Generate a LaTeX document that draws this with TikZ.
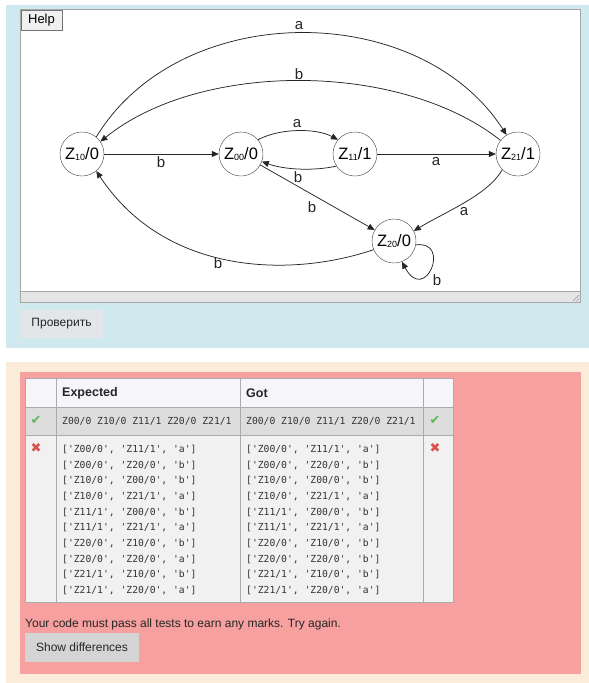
\documentclass[tikz,border=0pt]{standalone}
\usepackage{fontspec}
\setmainfont{Liberation Sans}
\setmonofont{DejaVu Sans Mono}
\newfontfamily\symfont{DejaVu Sans}
\usetikzlibrary{arrows.meta}

\definecolor{panelblue}{RGB}{208,233,239}
\definecolor{panelbeige}{RGB}{250,236,216}
\definecolor{failpink}{RGB}{246,160,160}
\definecolor{headgray}{RGB}{245,245,250}
\definecolor{rowgray}{RGB}{221,221,221}
\definecolor{cellgray}{RGB}{240,241,240}
\definecolor{linegray}{RGB}{170,170,175}
\definecolor{btngray}{RGB}{226,230,232}
\definecolor{okgreen}{RGB}{92,184,92}
\definecolor{badred}{RGB}{217,83,79}

\newcommand{\zlab}[2]{Z\raisebox{-1.5pt}{\fontsize{9}{10}\selectfont #1}/#2}

\tikzset{
  state/.style={draw=black!75, circle, fill=white, minimum size=44pt, inner sep=0pt, font=\fontsize{16.5}{18}\selectfont},
  trans/.style={draw=black!85, line width=0.75pt, -{Triangle[length=7pt,width=6pt]}},
  lbl/.style={font=\fontsize{15}{17}\selectfont, text=black!85, inner sep=0pt},
  uitext/.style={font=\fontsize{12}{14}\selectfont, text=black!85, inner sep=0pt},
  codetext/.style={font=\ttfamily\fontsize{9.7}{11}\selectfont, text=black!80, anchor=west, inner sep=0pt},
  tickmark/.style={font=\symfont\fontsize{13}{14}\selectfont, inner sep=0pt},
}

\begin{document}
\begin{tikzpicture}[x=1pt, y=-1pt]
  \useasboundingbox (0,0) rectangle (589,683);
  \fill[white] (0,0) rectangle (589,683);

  % editor panel
  \fill[panelblue] (6,5) rectangle (589,348);
  \draw[fill=white, draw=black!35] (20.5,9.5) rectangle (580,302);
  \fill[black!10] (21,291) rectangle (579.5,301.5);
  \draw[black!35] (20.5,291) -- (580,291);
  \draw[black!40] (573,301) -- (579,295) (576.5,301) -- (579,298.5);
  \node[draw=black!55, fill=black!6, minimum width=41pt, minimum height=20pt, inner sep=0pt, font=\fontsize{13}{14}\selectfont] (help) at (41.5,20) {Help};

  % states
  \node[state] (z10) at (82,154) {\zlab{10}{0}};
  \node[state] (z00) at (241,154) {\zlab{00}{0}};
  \node[state] (z11) at (355,154) {\zlab{11}{1}};
  \node[state] (z21) at (518,154) {\zlab{21}{1}};
  \node[state] (z20) at (394,241) {\zlab{20}{0}};

  % transitions
  \draw[trans] (z10.50) .. controls (180,-1) and (419,-1) .. (z21.121) node[lbl] at (299,26) {a};
  \draw[trans] (z21.142) .. controls (400,61) and (200,61) .. (z10.34) node[lbl] at (299,74) {b};
  \draw[trans] (z10) -- (z00) node[lbl] at (161,162) {b};
  \draw[trans] (z00.40) .. controls (280,128) and (316,128) .. (z11.140) node[lbl] at (297,124) {a};
  \draw[trans] (z11.213) .. controls (315,171) and (285,170) .. (z00.-20) node[lbl] at (298,177) {b};
  \draw[trans] (z11) -- (z21) node[lbl] at (436,162) {a};
  \draw[trans] (z00) -- (z20) node[lbl] at (312,207) {b};
  \draw[trans] (z21.225) .. controls (488,195) and (445,212) .. (z20.27) node[lbl] at (464,212) {a};
  \draw[trans] (z20.203) .. controls (290,278) and (165,275) .. (z10.310) node[lbl] at (218,263) {b};
  \draw[trans] (z20.-10) .. controls (452,240) and (425,305) .. (z20.-69) node[lbl] at (437,280) {b};

  % check button
  \node[fill=btngray, minimum width=83pt, minimum height=28pt, inner sep=0pt, uitext] (check) at (61.5,324) {Проверить};

  % result panel
  \fill[panelbeige] (6,362) rectangle (589,683);
  \fill[failpink] (20,372) rectangle (581,674);
  \fill[headgray] (25.5,378) rectangle (453,407);
  \fill[rowgray] (25.5,407) rectangle (453,435);
  \fill[cellgray] (25.5,435) rectangle (453,602);
  \draw[linegray] (25.5,378) rectangle (453,602);
  \draw[linegray] (56,378) -- (56,602) (240,378) -- (240,602) (423,378) -- (423,602);
  \draw[linegray] (25.5,407) -- (453,407) (25.5,435) -- (453,435);

  \node[uitext, anchor=west, font=\bfseries\fontsize{12.5}{14}\selectfont] (hexp) at (62,393) {Expected};
  \node[uitext, anchor=west, font=\bfseries\fontsize{12.5}{14}\selectfont] (hgot) at (246,393) {Got};

  \node[tickmark, text=okgreen] (okl) at (36,420) {✔};
  \node[tickmark, text=okgreen] (okr) at (435,420) {✔};
  \node[tickmark, text=badred] (badl) at (36,448) {✖};
  \node[tickmark, text=badred] (badr) at (435,448) {✖};

  \node[codetext] (sexp) at (62,421) {Z00/0 Z10/0 Z11/1 Z20/0 Z21/1};
  \node[codetext] (sgot) at (246,421) {Z00/0 Z10/0 Z11/1 Z20/0 Z21/1};

  % expected and got edge lists
  \foreach \txt [count=\i] in {{['Z00/0', 'Z11/1', 'a']}, {['Z00/0', 'Z20/0', 'b']},
      {['Z10/0', 'Z00/0', 'b']}, {['Z10/0', 'Z21/1', 'a']}, {['Z11/1', 'Z00/0', 'b']},
      {['Z11/1', 'Z21/1', 'a']}, {['Z20/0', 'Z10/0', 'b']}, {['Z20/0', 'Z20/0', 'a']},
      {['Z21/1', 'Z10/0', 'b']}, {['Z21/1', 'Z20/0', 'a']}}
    \node[codetext] (exp\i) at (62,449.3+15.7*\i-15.7) {\txt};
  \foreach \txt [count=\i] in {{['Z00/0', 'Z11/1', 'a']}, {['Z00/0', 'Z20/0', 'b']},
      {['Z10/0', 'Z00/0', 'b']}, {['Z10/0', 'Z21/1', 'a']}, {['Z11/1', 'Z00/0', 'b']},
      {['Z11/1', 'Z21/1', 'a']}, {['Z20/0', 'Z10/0', 'b']}, {['Z20/0', 'Z20/0', 'b']},
      {['Z21/1', 'Z10/0', 'b']}, {['Z21/1', 'Z20/0', 'a']}}
    \node[codetext] (got\i) at (246,449.3+15.7*\i-15.7) {\txt};

  \node[uitext, anchor=west] (msg) at (25,624) {Your code must pass all tests to earn any marks. Try again.};
  \node[fill=black!17, minimum width=114pt, minimum height=29pt, inner sep=0pt, uitext] (diff) at (82,647.5) {Show differences};
\end{tikzpicture}
\end{document}
